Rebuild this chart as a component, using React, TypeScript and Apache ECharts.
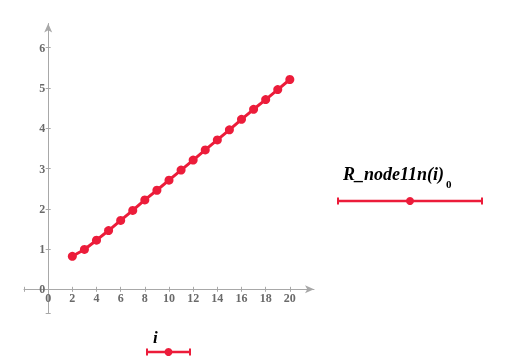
import React, { useEffect, useRef } from "react";
import * as echarts from "echarts";

const iValues = [2, 3, 4, 5, 6, 7, 8, 9, 10, 11, 12, 13, 14, 15, 16, 17, 18, 19, 20];
const rValues = [0.82, 0.99, 1.22, 1.46, 1.71, 1.96, 2.22, 2.46, 2.71, 2.96, 3.21, 3.46, 3.71, 3.96, 4.22, 4.47, 4.71, 4.96, 5.21];
const xTicks = [-2, 0, 2, 4, 6, 8, 10, 12, 14, 16, 18, 20];
const xLabels = [0, 2, 4, 6, 8, 10, 12, 14, 16, 18, 20];
const yTicks = [-0.6, 0, 1, 2, 3, 4, 5, 6];
const yLabels = [0, 1, 2, 3, 4, 5, 6];
const seriesName = "R_node11n(i)";
const seriesSub = "0";
const xName = "i";

const RED = "#ec1c3a";
const AXIS = "#a8a8a8";
const LABEL = "#6a6a6a";
const FONT = "'Liberation Serif', 'Times New Roman', serif";

export default function App() {
  const ref = useRef<HTMLDivElement>(null);
  useEffect(() => {
    const chart = echarts.init(ref.current!, null, { renderer: "svg" });
    const data = iValues.map((x, k) => [x, rValues[k]]);
    const labelStyle = { color: LABEL, fontFamily: FONT, fontSize: 12, fontWeight: "bold" as const };
    const OFF = -24.2;
    const legendItem = (x1: number, x2: number, y: number) => [
      { type: "line", shape: { x1, y1: y, x2, y2: y }, style: { stroke: RED, lineWidth: 2.5 } },
      { type: "line", shape: { x1: x1 + 1, y1: y - 3.5, x2: x1 + 1, y2: y + 3.5 }, style: { stroke: RED, lineWidth: 2 } },
      { type: "line", shape: { x1: x2 - 1, y1: y - 3.5, x2: x2 - 1, y2: y + 3.5 }, style: { stroke: RED, lineWidth: 2 } },
      { type: "circle", shape: { cx: (x1 + x2) / 2, cy: y, r: 4 }, style: { fill: RED } },
    ];
    const xBase = {
      type: "value",
      min: -2,
      max: 22,
      position: "bottom",
      offset: OFF,
      splitLine: { show: false },
    };
    const yBase = {
      type: "value",
      min: -0.6,
      max: 6.6,
      position: "left",
      offset: OFF,
      splitLine: { show: false },
    };
    chart.setOption({
      animation: false,
      grid: { left: 24, top: 23.5, width: 290, height: 290, containLabel: false },
      xAxis: [
        {
          ...xBase,
          axisLine: { onZero: false, lineStyle: { color: AXIS, width: 1 }, symbol: ["none", "arrow"], symbolSize: [6, 9] },
          axisTick: { show: true, length: 2.5, lineStyle: { color: AXIS }, customValues: xTicks },
          axisLabel: { ...labelStyle, margin: 3, customValues: xLabels },
        },
        {
          ...xBase,
          axisLine: { show: false, onZero: false },
          axisTick: { show: true, inside: true, length: 2.5, lineStyle: { color: AXIS }, customValues: xTicks },
          axisLabel: { show: false },
        },
      ],
      yAxis: [
        {
          ...yBase,
          axisLine: { onZero: false, lineStyle: { color: AXIS, width: 1 }, symbol: ["none", "arrow"], symbolSize: [6, 9] },
          axisTick: { show: true, length: 2.5, lineStyle: { color: AXIS }, customValues: yTicks },
          axisLabel: { ...labelStyle, margin: 3, customValues: yLabels },
        },
        {
          ...yBase,
          axisLine: { show: false, onZero: false },
          axisTick: { show: true, inside: true, length: 2.5, lineStyle: { color: AXIS }, customValues: yTicks },
          axisLabel: { show: false },
        },
      ],
      series: [
        {
          type: "line",
          name: seriesName,
          data,
          xAxisIndex: 0,
          yAxisIndex: 0,
          symbol: "circle",
          symbolSize: 9,
          lineStyle: { color: RED, width: 3 },
          itemStyle: { color: RED },
        },
      ],
      graphic: [
        {
          type: "text",
          left: 343,
          top: 165,
          style: { text: seriesName, fill: "#000", font: `italic bold 18px ${FONT}` },
        },
        {
          type: "text",
          left: 446,
          top: 178,
          style: { text: seriesSub, fill: "#000", font: `bold 11px ${FONT}` },
        },
        ...legendItem(337, 483, 201),
        {
          type: "text",
          left: 153,
          top: 329,
          style: { text: xName, fill: "#000", font: `italic bold 17px ${FONT}` },
        },
        ...legendItem(146, 191, 352),
      ],
    });
    return () => chart.dispose();
  }, []);
  return <div ref={ref} style={{ position: "fixed", left: 0, top: 0, width: 505, height: 362 }} />;
}
